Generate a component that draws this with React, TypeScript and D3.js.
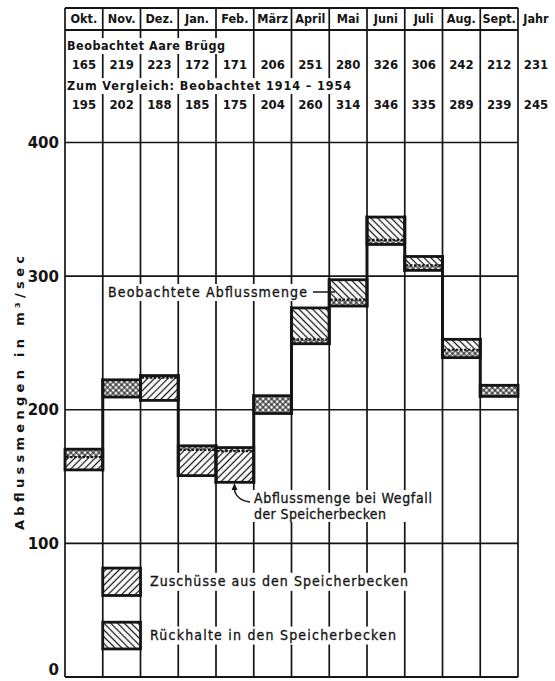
import React from "react";
import * as d3 from "d3";

const W = 555;
const H = 681;
const FONT = "'DejaVu Sans Condensed', 'DejaVu Sans', sans-serif";
const INK = "#141414";

const months = ["Okt.", "Nov.", "Dez.", "Jan.", "Feb.", "März", "April", "Mai", "Juni", "Juli", "Aug.", "Sept."];
const yearLabel = "Jahr";

// Beobachtet Aare Brügg
const brugg = [165, 219, 223, 172, 171, 206, 251, 280, 326, 306, 242, 212];
const bruggYear = 231;
// Zum Vergleich: Beobachtet 1914 - 1954
const ref1914 = [195, 202, 188, 185, 175, 204, 260, 314, 346, 335, 289, 239];
const ref1914Year = 245;

// blocks (m3/sec)
const blockLow = [155, 209.5, 207, 150.7, 145.7, 197.2, 249.4, 277.6, 323.7, 304.3, 239, 210];
const blockHigh = [170.5, 222.4, 225.6, 173, 171.7, 210.5, 276.2, 297.3, 344.2, 314.7, 252.7, 218.3];
const observedMark = [164.5, null, 224, 170, 169, null, 252.6, 282.4, 327.2, 308, 244.9, null];
// zu = Zuschüsse below mark, both = overlap, rueck = Rückhalte above mark
const blockKind = ["zu", "both", "zu", "zu", "zu", "both", "rueck", "rueck", "rueck", "rueck", "rueck", "both"];

const yTicks = [0, 100, 200, 300, 400];

const HEAD_TOP = 8;
const HEAD_LINE = 30;

export default function App() {
  const x = d3.scaleBand().domain(months).range([65, 518]).padding(0);
  const bw = x.bandwidth();
  const y = d3.scaleLinear().domain([0, 400]).range([677, 142.5]);

  const bounds = months.map((m) => x(m) as number).concat([518]);

  const lowerFill = (k: string) => (k === "zu" ? "url(#zu)" : "url(#both)");
  const upperFill = (k: string) => (k === "rueck" ? "url(#rueck)" : "url(#both)");

  const blocks = months.map((m, i) => {
    const x0 = x(m) as number;
    const lo = blockLow[i];
    const hi = blockHigh[i];
    const mk = observedMark[i];
    const k = blockKind[i];
    return (
      <g key={m}>
        {mk == null ? (
          <rect x={x0} y={y(hi)} width={bw} height={y(lo) - y(hi)} fill="url(#both)" />
        ) : (
          <>
            <rect x={x0} y={y(mk)} width={bw} height={y(lo) - y(mk)} fill={lowerFill(k)} />
            <rect x={x0} y={y(hi)} width={bw} height={y(mk) - y(hi)} fill={upperFill(k)} />
            <line
              x1={x0 + 1}
              x2={x0 + bw - 1}
              y1={y(mk)}
              y2={y(mk)}
              stroke={INK}
              strokeWidth={2.2}
              strokeDasharray="2.5 1.6"
            />
          </>
        )}
        <rect
          x={x0}
          y={y(hi)}
          width={bw}
          height={y(lo) - y(hi)}
          fill="none"
          stroke={INK}
          strokeWidth={2.8}
        />
      </g>
    );
  });

  // thick connectors between neighbouring blocks
  const connectors = months.slice(1).map((m, j) => {
    const i = j + 1;
    const xx = x(m) as number;
    const lo = Math.min(blockLow[i - 1], blockLow[i]);
    const hi = Math.max(blockHigh[i - 1], blockHigh[i]);
    return <line key={m} x1={xx} x2={xx} y1={y(lo) + 1.4} y2={y(hi) - 1.4} stroke={INK} strokeWidth={3} />;
  });

  const nov = x("Nov.") as number;
  const legendRows = [
    { lo: 61, hi: 81.5, fill: "url(#zu)", label: "Zuschüsse aus den Speicherbecken", len: 258 },
    { lo: 21, hi: 41, fill: "url(#rueck)", label: "Rückhalte in den Speicherbecken", len: 246 },
  ];

  const ROW1 = 65;
  const ROW2 = 105;

  return (
    <svg width={W} height={H} style={{ position: "absolute", left: 0, top: 0, background: "#fff" }}>
      <defs>
        <pattern id="zu" width={4.8} height={4.8} patternUnits="userSpaceOnUse" patternTransform="rotate(45)">
          <rect width={4.8} height={4.8} fill="#fff" />
          <line x1={2.4} x2={2.4} y1={0} y2={4.8} stroke={INK} strokeWidth={1.25} />
        </pattern>
        <pattern id="rueck" width={4.8} height={4.8} patternUnits="userSpaceOnUse" patternTransform="rotate(-45)">
          <rect width={4.8} height={4.8} fill="#fff" />
          <line x1={2.4} x2={2.4} y1={0} y2={4.8} stroke={INK} strokeWidth={1.25} />
        </pattern>
        <pattern id="both" width={4} height={4} patternUnits="userSpaceOnUse" patternTransform="rotate(45)">
          <rect width={4} height={4} fill="#fff" />
          <line x1={2} x2={2} y1={0} y2={4} stroke={INK} strokeWidth={1.1} />
          <line x1={0} x2={4} y1={2} y2={2} stroke={INK} strokeWidth={1.1} />
        </pattern>
      </defs>

      {/* grid */}
      <g stroke={INK}>
        {bounds.map((bx, i) => (
          <line key={i} x1={bx} x2={bx} y1={HEAD_TOP} y2={y(0)} strokeWidth={1.7} />
        ))}
        {yTicks.map((t) => (
          <line key={t} x1={65} x2={518} y1={y(t)} y2={y(t)} strokeWidth={t === 0 ? 2.2 : 1.7} />
        ))}
        <line x1={65} x2={518} y1={HEAD_TOP} y2={HEAD_TOP} strokeWidth={1.8} />
        <line x1={65} x2={518} y1={HEAD_LINE} y2={HEAD_LINE} strokeWidth={1.8} />
      </g>

      {/* header table */}
      <g fontFamily={FONT} fontWeight="bold" fill={INK}>
        {months.map((m) => (
          <text key={m} x={(x(m) as number) + bw / 2} y={19.5} textAnchor="middle" dominantBaseline="middle" fontSize={12.5}>
            {m}
          </text>
        ))}
        <text x={536} y={19.5} textAnchor="middle" dominantBaseline="middle" fontSize={12.5}>
          {yearLabel}
        </text>

        <rect x={66} y={38} width={163} height={16} fill="#fff" />
        <text x={67} y={46} dominantBaseline="middle" fontSize={12.5} textLength={158} lengthAdjust="spacing">
          Beobachtet Aare Brügg
        </text>
        {brugg.map((v, i) => (
          <text key={i} x={(x(months[i]) as number) + bw / 2} y={ROW1} textAnchor="middle" dominantBaseline="middle" fontSize={13}>
            {v}
          </text>
        ))}
        <text x={536} y={ROW1} textAnchor="middle" dominantBaseline="middle" fontSize={13}>
          {bruggYear}
        </text>

        <rect x={66} y={78} width={288} height={16} fill="#fff" />
        <text x={67} y={86} dominantBaseline="middle" fontSize={12.5} textLength={284} lengthAdjust="spacing">
          Zum Vergleich: Beobachtet 1914 – 1954
        </text>
        {ref1914.map((v, i) => (
          <text key={i} x={(x(months[i]) as number) + bw / 2} y={ROW2} textAnchor="middle" dominantBaseline="middle" fontSize={13}>
            {v}
          </text>
        ))}
        <text x={536} y={ROW2} textAnchor="middle" dominantBaseline="middle" fontSize={13}>
          {ref1914Year}
        </text>
      </g>

      {/* y axis */}
      <g fontFamily="'DejaVu Sans', sans-serif" fontWeight="bold" fill={INK}>
        {yTicks.map((t) => (
          <text key={t} x={59} y={Math.min(y(t) + 5.5, 675)} textAnchor="end" fontSize={15}>
            {t}
          </text>
        ))}
        <text
          transform="translate(20, 393) rotate(-90)"
          textAnchor="middle"
          dominantBaseline="middle"
          fontSize={13}
          textLength={274}
          lengthAdjust="spacing"
        >
          Abflussmengen in m³/sec
        </text>
      </g>

      {/* blocks */}
      {blocks}
      {connectors}

      {/* annotations */}
      <g fontFamily={FONT} fill={INK} stroke={INK} strokeWidth={0.3}>
        <rect x={105} y={284} width={206} height={17} fill="#fff" stroke="none" />
        <text x={108} y={292.5} dominantBaseline="middle" fontSize={14} textLength={199} lengthAdjust="spacing">
          Beobachtete Abflussmenge
        </text>
        <line x1={313} x2={335} y1={292} y2={292} stroke={INK} strokeWidth={1.5} />

        <rect x={251} y={490} width={186} height={32} fill="#fff" stroke="none" />
        <text x={254} y={499} dominantBaseline="middle" fontSize={14} textLength={178} lengthAdjust="spacing">
          Abflussmenge bei Wegfall
        </text>
        <text x={254} y={515} dominantBaseline="middle" fontSize={14} textLength={132} lengthAdjust="spacing">
          der Speicherbecken
        </text>
        <path d="M250,502 C241,501 235,496 234.5,489" fill="none" stroke={INK} strokeWidth={1.5} />
        <path d="M234.5,483 L231.5,490 L237.5,490 Z" fill={INK} stroke="none" />

        {legendRows.map((r) => (
          <g key={r.label}>
            <rect x={nov} y={y(r.hi)} width={bw} height={y(r.lo) - y(r.hi)} fill={r.fill} stroke={INK} strokeWidth={2.8} />
            <rect x={146} y={(y(r.hi) + y(r.lo)) / 2 - 9} width={r.len + 8} height={18} fill="#fff" stroke="none" />
            <text
              x={150}
              y={(y(r.hi) + y(r.lo)) / 2}
              dominantBaseline="middle"
              fontSize={14}
              textLength={r.len}
              lengthAdjust="spacing"
            >
              {r.label}
            </text>
          </g>
        ))}
      </g>
    </svg>
  );
}
